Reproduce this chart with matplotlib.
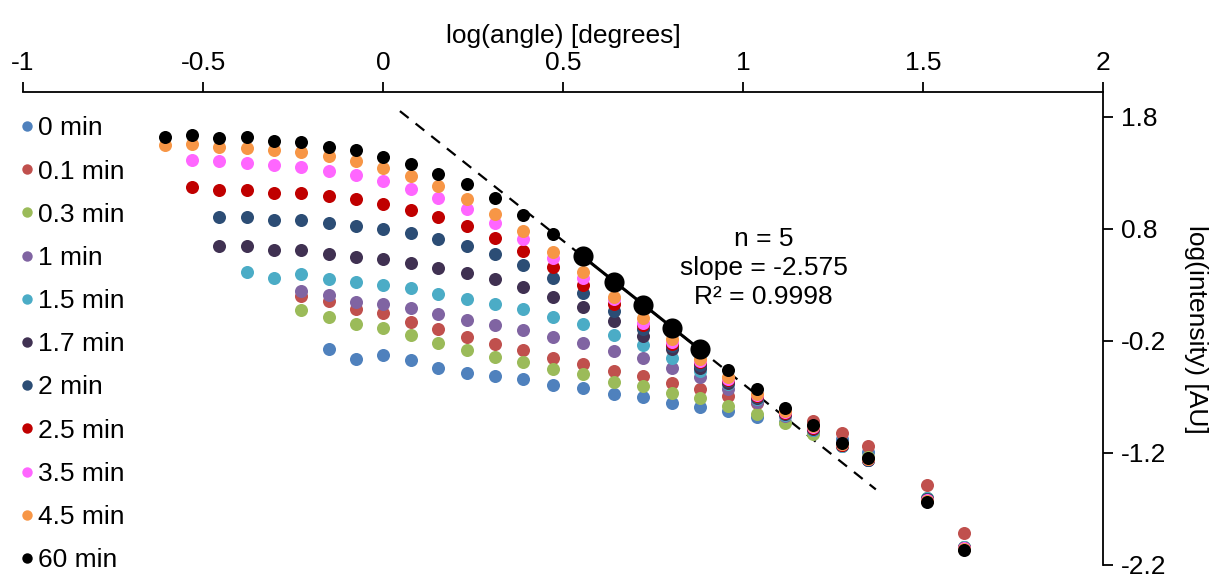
import numpy as np
import matplotlib
matplotlib.use("Agg")
import matplotlib.pyplot as plt
from matplotlib.lines import Line2D

plt.rcParams['font.family'] = ['Liberation Sans', 'DejaVu Sans']
plt.rcParams['axes.unicode_minus'] = False

# log(angle) of each measured column (all series end at the last column)
log_angle = [-0.606, -0.531, -0.456, -0.378, -0.303, -0.228, -0.150, -0.075, 0.000,
             0.078, 0.153, 0.233, 0.311, 0.389, 0.472, 0.556, 0.642, 0.722, 0.803,
             0.881, 0.958, 1.039, 1.117, 1.194, 1.275, 1.347, 1.511, 1.614]

labels = ['0 min', '0.1 min', '0.3 min', '1 min', '1.5 min', '1.7 min',
          '2 min', '2.5 min', '3.5 min', '4.5 min', '60 min']
colors = ['#4F81BD', '#C0504D', '#9BBB59', '#8064A2', '#4BACC6', '#403152',
          '#2C4D75', '#C00000', '#FF66FF', '#F79646', '#000000']

y_0 = [-0.275, -0.358, -0.324, -0.370, -0.444, -0.489, -0.513, -0.542, -0.593, -0.620,
       -0.676, -0.705, -0.756, -0.794, -0.830, -0.880, -0.922, -1.017, -1.076, -1.189,
       -1.602, -2.043]
y_01 = [0.200, 0.155, 0.081, 0.047, -0.028, -0.097, -0.165, -0.230, -0.284, -0.349,
        -0.406, -0.471, -0.518, -0.580, -0.631, -0.691, -0.756, -0.827, -0.916, -1.023,
        -1.136, -1.486, -1.918]
y_03 = [0.079, 0.016, -0.052, -0.086, -0.150, -0.221, -0.284, -0.343, -0.393, -0.453,
        -0.498, -0.563, -0.607, -0.667, -0.714, -0.780, -0.854, -0.929, -1.027, -1.141,
        -1.237, -1.602, -2.038]
y_1 = [0.242, 0.212, 0.150, 0.133, 0.096, 0.039, -0.017, -0.059, -0.103, -0.165,
       -0.215, -0.290, -0.355, -0.438, -0.527, -0.631, -0.747, -0.871, -0.996, -1.139,
       -1.259, -1.611, -2.047]
y_15 = [0.417, 0.364, 0.393, 0.355, 0.322, 0.295, 0.275, 0.218, 0.177, 0.132, 0.081,
        0.016, -0.052, -0.148, -0.239, -0.349, -0.468, -0.587, -0.720, -0.863, -0.996,
        -1.139, -1.263, -1.606, -2.043]
y_17 = [0.645, 0.642, 0.607, 0.607, 0.571, 0.547, 0.527, 0.491, 0.453, 0.402, 0.348,
        0.280, 0.193, 0.099, -0.023, -0.156, -0.275, -0.438, -0.578, -0.711, -0.854,
        -0.987, -1.130, -1.263, -1.611, -2.047]
y_2 = [0.903, 0.909, 0.880, 0.880, 0.853, 0.823, 0.800, 0.758, 0.711, 0.645, 0.571,
       0.476, 0.359, 0.227, 0.066, -0.097, -0.246, -0.415, -0.560, -0.702, -0.845,
       -0.978, -1.130, -1.259, -1.611, -2.047]
y_25 = [1.168, 1.147, 1.150, 1.123, 1.117, 1.090, 1.061, 1.018, 0.966, 0.901, 0.823,
        0.720, 0.600, 0.460, 0.299, 0.128, -0.061, -0.224, -0.393, -0.551, -0.693,
        -0.840, -0.974, -1.125, -1.254, -1.616, -2.047]
y_35 = [1.417, 1.402, 1.390, 1.370, 1.355, 1.319, 1.281, 1.227, 1.159, 1.072, 0.972,
        0.853, 0.711, 0.542, 0.364, 0.170, -0.037, -0.210, -0.379, -0.542, -0.685,
        -0.836, -0.969, -1.121, -1.254, -1.620, -2.047]
y_45 = [1.551, 1.557, 1.530, 1.521, 1.500, 1.482, 1.446, 1.406, 1.340, 1.268, 1.179,
        1.067, 0.936, 0.779, 0.595, 0.411, 0.195, 0.001, -0.180, -0.364, -0.527, -0.676,
        -0.827, -0.963, -1.121, -1.254, -1.629, -2.056]
y_60 = [1.619, 1.633, 1.613, 1.616, 1.580, 1.575, 1.527, 1.500, 1.441, 1.379, 1.292,
        1.201, 1.070, 0.927, 0.749, 0.556, 0.326, 0.121, -0.082, -0.275, -0.457, -0.631,
        -0.800, -0.954, -1.112, -1.246, -1.635, -2.063]

series = [y_0, y_01, y_03, y_1, y_15, y_17, y_2, y_25, y_35, y_45, y_60]

# points used for the fit (60 min, columns 16-20)
fit_x = log_angle[15:20]
fit_y = y_60[15:20]
fit_range = [0.047, 1.369]
fit_text = ['n = 5', 'slope = -2.575', 'R² = 0.9998']

fs = 19
fig = plt.figure(figsize=(12.14, 5.76), dpi=100)
ax = fig.add_axes([23 / 1214, 11 / 576, 1080 / 1214, 473 / 576])

xs = np.array(log_angle)
for ys, col in zip(series, colors):
    ax.scatter(xs[len(xs) - len(ys):], ys, s=88, color=col, linewidths=0, zorder=3)

ax.scatter(fit_x, fit_y, s=210, color='black', linewidths=0, zorder=4)
k, b = np.polyfit(fit_x, fit_y, 1)
xr = np.array(fit_range)
ax.plot(xr, k * xr + b, color='black', lw=1.6, ls=(0, (5, 4)), zorder=2)
xf = np.array([fit_x[0], fit_x[-1]])
ax.plot(xf, k * xf + b, color='black', lw=2.2, zorder=4)

for i, t in enumerate(fit_text):
    ax.text(1.057, 0.705 - 0.255 * i, t, ha='center', va='center', fontsize=fs)

ax.set_xlim(-1, 2)
ax.set_ylim(-2.2, 2.02)
ax.set_xticks([-1, -0.5, 0, 0.5, 1, 1.5, 2])
ax.set_xticklabels(['-1', '-0.5', '0', '0.5', '1', '1.5', '2'])
ax.set_yticks([1.8, 0.8, -0.2, -1.2, -2.2])
ax.set_yticklabels(['1.8', '0.8', '-0.2', '-1.2', '-2.2'])
ax.xaxis.tick_top()
ax.xaxis.set_label_position('top')
ax.yaxis.tick_right()
ax.tick_params(axis='both', direction='out', length=7, width=1.3, labelsize=fs)
ax.tick_params(axis='x', pad=5)
ax.tick_params(axis='y', pad=6)
for side in ['left', 'bottom']:
    ax.spines[side].set_visible(False)
for side in ['top', 'right']:
    ax.spines[side].set_linewidth(1.3)
ax.set_xlabel('log(angle) [degrees]', fontsize=fs, labelpad=6)
fig.text(1196 / 1214, 1 - 329 / 576, 'log(intensity) [AU]', rotation=-90,
         ha='center', va='center', fontsize=fs)

handles = [Line2D([], [], ls='none', marker='o', markersize=7.5, color=c, markeredgewidth=0)
           for c in colors]
fig.legend(handles, labels, loc='upper left', bbox_to_anchor=(0.0157, 0.798),
           frameon=False, fontsize=fs, labelspacing=0.727, handlelength=0.6,
           handletextpad=0.12, borderpad=0, borderaxespad=0)

fig.savefig('out.png', dpi=100)
